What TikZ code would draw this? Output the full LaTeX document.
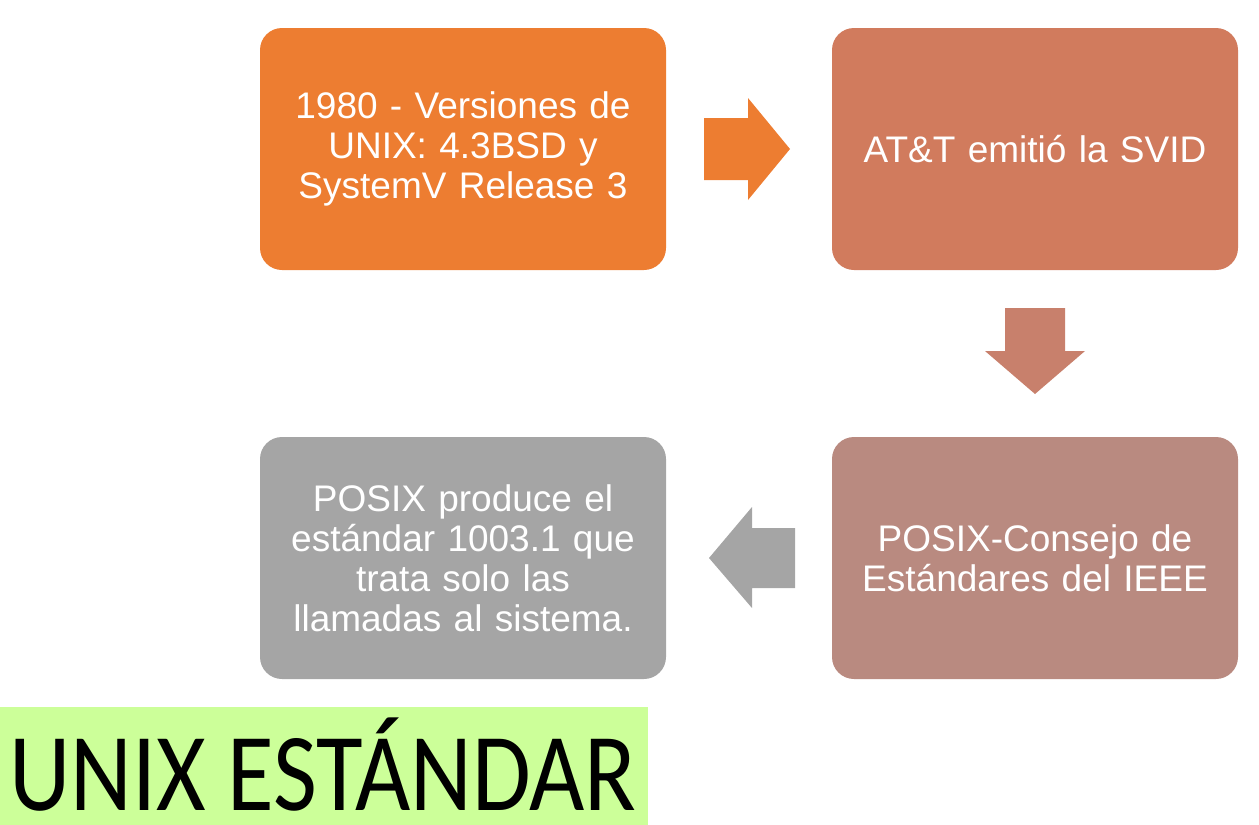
\documentclass[tikz,border=0pt]{standalone}
\usepackage{fontspec}
\setmainfont{Liberation Sans}
\newfontfamily\titlefont{Carlito}
\definecolor{cOrange}{HTML}{ED7D31}
\definecolor{cSalmon}{HTML}{D17B5D}
\definecolor{cRose}{HTML}{B98A80}
\definecolor{cGray}{HTML}{A5A5A5}
\definecolor{cArrowDown}{HTML}{C8806C}
\definecolor{cGreen}{HTML}{CCFF99}
\tikzset{
  stepbox/.style={rounded corners=22pt, minimum width=406pt, minimum height=242pt,
    inner sep=0pt, text=white, align=center, text width=396pt,
    font=\fontsize{37}{40}\selectfont},
}
\begin{document}
\begin{tikzpicture}[x=1pt,y=-1pt]
\useasboundingbox (0,0) rectangle (1259,825);
\node[stepbox, fill=cOrange] (b1) at (463,149) {1980 - Versiones de\\UNIX: 4.3BSD y\\SystemV Release 3};
\node[stepbox, fill=cSalmon] (b2) at (1035,149) {AT\&T emitió la SVID};
\node[stepbox, fill=cRose] (b3) at (1035,558) {POSIX-Consejo de\\Estándares del IEEE};
\node[stepbox, fill=cGray] (b4) at (463,558) {POSIX produce el\\estándar 1003.1 que\\trata solo las\\llamadas al sistema.};
% right arrow
\fill[cOrange] (704,118) -- (748,118) -- (748,98) -- (790,149) -- (748,200) -- (748,180) -- (704,180) -- cycle;
% down arrow
\fill[cArrowDown] (1005,308) -- (1065,308) -- (1065,351) -- (1085,351) -- (1035,394) -- (985,351) -- (1005,351) -- cycle;
% left arrow
\fill[cGray] (795,528) -- (752,528) -- (752,507) -- (709,558) -- (752,608) -- (752,588) -- (795,588) -- cycle;
% title
\fill[cGreen] (0,707) rectangle (648,825);
\node[anchor=base west, inner sep=0pt, font=\titlefont\fontsize{111}{111}\selectfont] (title) at (9,810) {\scalebox{0.86}[1]{UNIX ESTÁNDAR}};
\end{tikzpicture}
\end{document}
